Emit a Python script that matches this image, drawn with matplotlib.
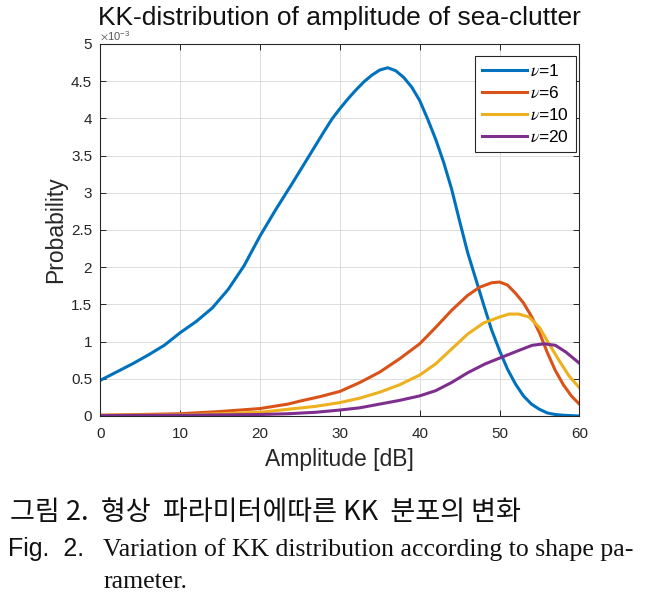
import numpy as np
import matplotlib
matplotlib.use("Agg")
import matplotlib.pyplot as plt

# values, probability in units of 1e-3
amp_nu1 = [0, 2, 4, 6, 8, 10, 12, 14, 16, 18, 20, 22, 24, 26, 28, 29, 30, 31, 32, 33, 34,
           35, 36, 37, 38, 39, 40, 41, 42, 43, 44, 45, 46, 47, 48, 49, 50, 51, 52, 53, 54,
           55, 56, 57, 58, 60]
prob_nu1 = [0.48, 0.59, 0.70, 0.82, 0.95, 1.12, 1.27, 1.45, 1.70, 2.02, 2.42, 2.78, 3.12,
            3.47, 3.82, 3.99, 4.13, 4.26, 4.38, 4.49, 4.58, 4.65, 4.68, 4.64, 4.55, 4.42,
            4.24, 3.99, 3.72, 3.41, 3.05, 2.62, 2.20, 1.85, 1.50, 1.16, 0.88, 0.63, 0.43,
            0.27, 0.16, 0.09, 0.04, 0.02, 0.01, 0.0]

amp_nu6 = [0, 5, 10, 15, 20, 23.5, 25, 27.5, 30, 32.5, 35, 37.5, 40, 42, 44, 46, 47.5, 49,
           50, 51, 52, 53, 54, 55, 56, 57, 58, 59, 60]
prob_nu6 = [0.01, 0.02, 0.03, 0.06, 0.10, 0.16, 0.20, 0.26, 0.33, 0.45, 0.59, 0.77, 0.97,
            1.19, 1.42, 1.62, 1.73, 1.79, 1.80, 1.76, 1.65, 1.52, 1.34, 1.12, 0.85, 0.61,
            0.42, 0.27, 0.16]

amp_nu10 = [0, 10, 15, 20, 23.5, 27, 30, 32.5, 35, 37.5, 40, 42, 44, 46, 48, 50, 51.2, 52.4,
            53.7, 55, 56.2, 57.5, 58.7, 60]
prob_nu10 = [0.01, 0.015, 0.03, 0.05, 0.09, 0.13, 0.18, 0.24, 0.32, 0.42, 0.55, 0.70, 0.90,
             1.10, 1.25, 1.33, 1.37, 1.37, 1.33, 1.19, 0.97, 0.74, 0.54, 0.38]

amp_nu20 = [0, 10, 15, 20, 23.5, 27, 30, 32.5, 35, 37.5, 40, 42, 44, 46, 48.2, 50.3, 52.4,
            54.1, 55.6, 57, 58.3, 60]
prob_nu20 = [0.005, 0.01, 0.015, 0.02, 0.03, 0.05, 0.08, 0.11, 0.16, 0.21, 0.27, 0.34, 0.45,
             0.58, 0.70, 0.79, 0.88, 0.95, 0.97, 0.95, 0.86, 0.71]

labels = [r'$\nu$=1', r'$\nu$=6', r'$\nu$=10', r'$\nu$=20']
colors = ['#0072BD', '#D95319', '#EDB120', '#7E2F8E']

x_ticks = [0, 10, 20, 30, 40, 50, 60]
y_ticks = [0, 0.5, 1, 1.5, 2, 2.5, 3, 3.5, 4, 4.5, 5]
y_ticklabels = ['0', '0.5', '1', '1.5', '2', '2.5', '3', '3.5', '4', '4.5', '5']

plt.rcParams['font.family'] = ['Liberation Sans', 'DejaVu Sans']
plt.rcParams['mathtext.fontset'] = 'stix'
dark = '#262626'

fig = plt.figure(figsize=(6.48, 6.02), dpi=100)
ax = fig.add_axes([0.155, 0.309, 0.739, 0.618])

series = [(amp_nu1, prob_nu1), (amp_nu6, prob_nu6), (amp_nu10, prob_nu10), (amp_nu20, prob_nu20)]
for (xs, ys), lab, c in zip(series, labels, colors):
    ax.plot(xs, np.array(ys) * 1e-3, color=c, lw=2.2, label=lab, solid_joinstyle='round')

ax.set_xlim(0, 60)
ax.set_ylim(0, 5e-3)
ax.set_xticks(x_ticks)
ax.set_yticks(np.array(y_ticks) * 1e-3, y_ticklabels)
ax.tick_params(direction='in', top=True, right=True, labelsize=11, colors=dark,
               length=4, width=0.7)
ax.tick_params(axis='x', pad=8)
ax.tick_params(axis='y', pad=6)
for s in ax.spines.values():
    s.set_color(dark)
    s.set_linewidth(0.8)
ax.grid(True, color='#dcdcdc', lw=0.7)
ax.set_axisbelow(True)

ax.set_xlabel('Amplitude [dB]', fontsize=16.5, color=dark, labelpad=5)
ax.set_ylabel('Probability', fontsize=16.5, color=dark, labelpad=3)
ax.text(0.0, 1.002, r'$\times\mathregular{10^{-3}}$', transform=ax.transAxes,
        fontsize=8, color='#555555', ha='left', va='bottom')
ax.set_title('KK-distribution of amplitude of sea-clutter', fontsize=19, color='#111111', pad=14)

leg = ax.legend(loc='upper right', fontsize=12.5, handlelength=2.6, handletextpad=0.2,
                labelspacing=0.35, borderpad=0.4, borderaxespad=0.1, fancybox=False,
                framealpha=1, bbox_to_anchor=(0.997, 0.972))
leg.get_frame().set_edgecolor(dark)
leg.get_frame().set_linewidth(0.8)

# caption under the chart
fig.text(0.015, 0.148, '그림 2.  형상  파라미터에따른 KK  분포의 변화', fontsize=19.5,
         family=['Noto Sans CJK KR', 'DejaVu Sans'], color='#111111', va='center')
fig.text(0.012, 0.088, 'Fig.  2.', fontsize=18, family='Liberation Sans', color='#111111',
         va='center')
fig.text(0.159, 0.088, 'Variation of KK distribution according to shape pa-', fontsize=18.5,
         family='Liberation Serif', color='#111111', va='center')
fig.text(0.159, 0.033, 'rameter.', fontsize=18.5, family='Liberation Serif', color='#111111',
         va='center')

fig.savefig('out.png', dpi=100)
